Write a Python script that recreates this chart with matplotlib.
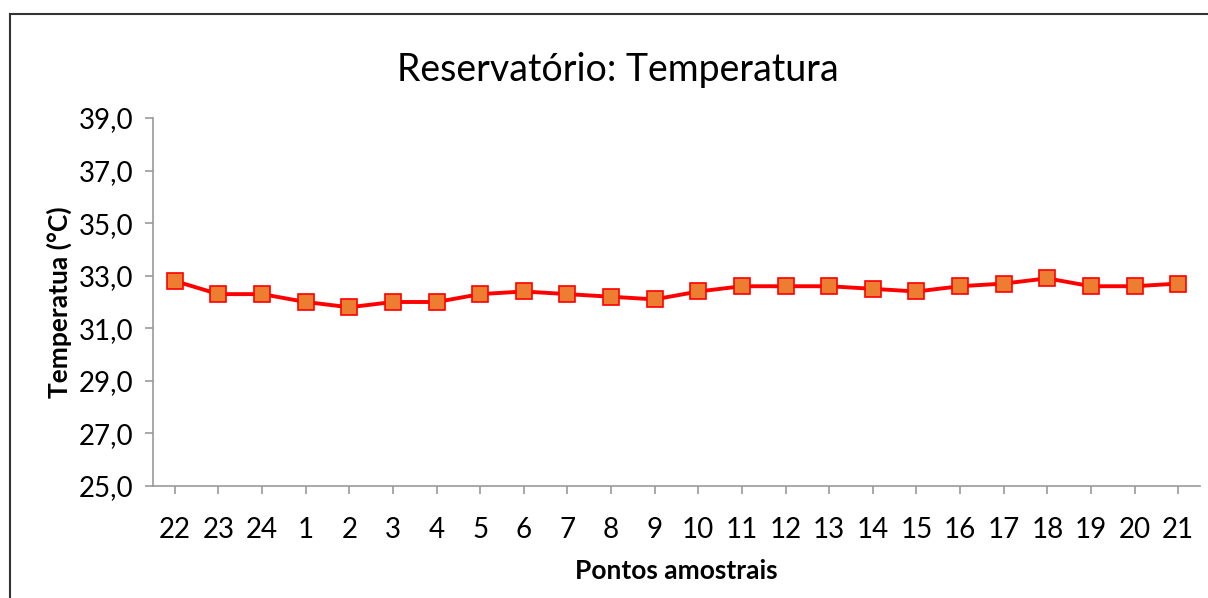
import matplotlib
matplotlib.use("Agg")
import matplotlib.pyplot as plt
from matplotlib.lines import Line2D

categories = ["22", "23", "24", "1", "2", "3", "4", "5", "6", "7", "8", "9",
              "10", "11", "12", "13", "14", "15", "16", "17", "18", "19", "20", "21"]
temperature = [32.8, 32.3, 32.3, 32.0, 31.8, 32.0, 32.0, 32.3, 32.4, 32.3, 32.2, 32.1,
               32.4, 32.6, 32.6, 32.6, 32.5, 32.4, 32.6, 32.7, 32.9, 32.6, 32.6, 32.7]
yticks = [25, 27, 29, 31, 33, 35, 37, 39]

plt.rcParams['font.family'] = ['Lato', 'DejaVu Sans']

W, H = 1208, 598
fig = plt.figure(figsize=(W / 100, H / 100), dpi=100)
# chart-area border (top and left visible)
fig.add_artist(Line2D([9.5 / W, 1.01], [1 - 13.5 / H, 1 - 13.5 / H],
                      transform=fig.transFigure, color='#333333', linewidth=1.5))
fig.add_artist(Line2D([9.5 / W, 9.5 / W], [-0.01, 1 - 13.5 / H],
                      transform=fig.transFigure, color='#333333', linewidth=1.5))

ax = fig.add_axes([153 / W, (H - 486) / H, (1200 - 153) / W, (486 - 118) / H])
x = list(range(len(categories)))
ax.plot(x, temperature, color='#FF0000', linewidth=2.8, marker='s', markersize=11,
        markerfacecolor='#ED7D31', markeredgecolor='#FF0000', markeredgewidth=1.2, zorder=3)

ax.set_xlim(-0.5, len(categories) - 0.5)
ax.set_ylim(25, 39)
ax.set_yticks(yticks)
ax.set_yticklabels([f"{v:.1f}".replace('.', ',') for v in yticks])
ax.set_xticks(x)
ax.set_xticklabels(categories)

for s in ['top', 'right']:
    ax.spines[s].set_visible(False)
for s in ['left', 'bottom']:
    ax.spines[s].set_color('#999999')
    ax.spines[s].set_linewidth(1.2)
ax.tick_params(axis='both', colors='#999999', labelcolor='black', labelsize=20,
               length=6, width=1.2, direction='out')
ax.tick_params(axis='y', pad=8)
ax.tick_params(axis='x', pad=16)

fig.text(618 / W, 1 - 70 / H, "Reservatório: Temperatura", fontsize=27,
         ha='center', va='center')
ax.set_ylabel("Temperatua (°C)", fontsize=19, fontweight='bold')
ax.yaxis.set_label_coords((72 - 153) / (1200 - 153), 0.5)
ax.set_xlabel("Pontos amostrais", fontsize=19, fontweight='bold', labelpad=12)

fig.savefig("out.png", dpi=100)
